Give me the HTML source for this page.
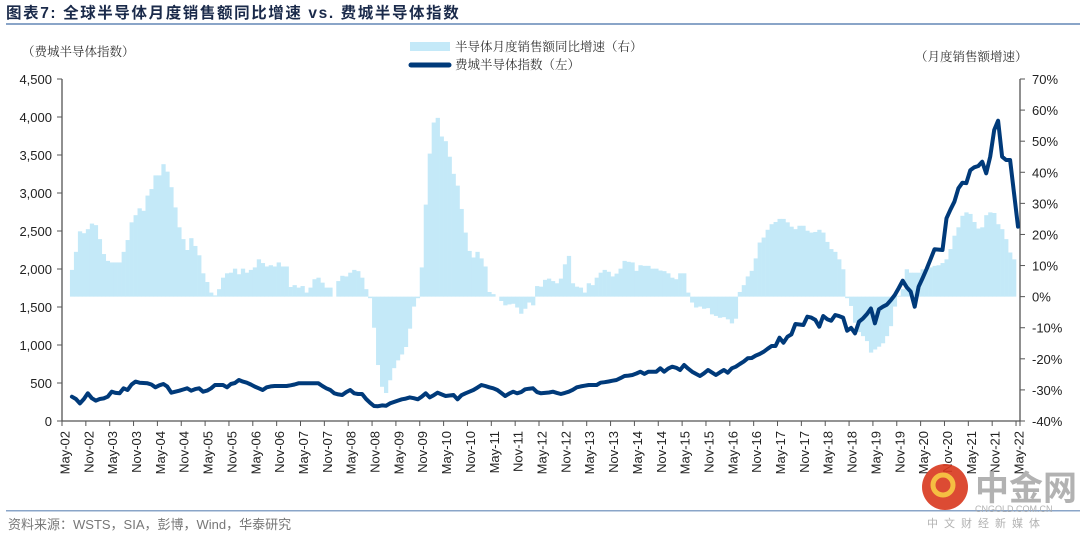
<!DOCTYPE html>
<html><head><meta charset="utf-8"><style>
body{margin:0;background:#fff;}
svg{display:block;font-family:"Liberation Sans","Noto Serif CJK SC","Noto Sans CJK SC",sans-serif;}
</style></head><body>
<svg id="chart" width="1080" height="539" viewBox="0 0 1080 539" xmlns="http://www.w3.org/2000/svg">
<text x="6" y="18" font-size="15.5" letter-spacing="1.6" font-weight="bold" fill="#1a2a4a" font-family="'Liberation Sans','Noto Sans CJK SC',sans-serif">图表7:  全球半导体月度销售额同比增速 vs. 费城半导体指数</text>
<rect x="6" y="23" width="1074" height="2" fill="#8aa5c8"/>
<text x="22" y="56" font-size="12.5" fill="#333" font-family="'Noto Serif CJK SC',serif">（费城半导体指数）</text>
<text x="915" y="61" font-size="12.5" fill="#333" font-family="'Noto Serif CJK SC',serif">（月度销售额增速）</text>
<g>
<rect x="410" y="42" width="40" height="9" fill="#c4e9f8"/>
<text x="455" y="51" font-size="12.5" fill="#333" font-family="'Noto Serif CJK SC',serif">半导体月度销售额同比增速（右）</text>
<line x1="411" y1="65" x2="449" y2="65" stroke="#003a7a" stroke-width="5" stroke-linecap="round"/>
<text x="455" y="69" font-size="12.5" fill="#333" font-family="'Noto Serif CJK SC',serif">费城半导体指数（左）</text>
</g>
<g id="plot"></g>
<rect x="6" y="510" width="1074" height="1.5" fill="#8aa5c8"/>
<text x="8" y="529" font-size="13" fill="#777" font-family="'Liberation Sans','Noto Sans CJK SC',sans-serif">资料来源：WSTS，SIA，彭博，Wind，华泰研究</text>
<g opacity="0.9">
<circle cx="945" cy="487" r="23" fill="#d9381e"/>
<circle cx="943" cy="485" r="10" fill="none" stroke="#f5b82e" stroke-width="5"/>
<text x="975" y="500" font-size="34" font-weight="bold" fill="#aaa" font-family="'Noto Sans CJK SC',sans-serif">中金网</text>
<text x="975" y="512" font-size="9" fill="#aaa">CNGOLD.COM.CN</text>
<text x="927" y="527" font-size="11" fill="#aaa" letter-spacing="6" font-family="'Noto Sans CJK SC',sans-serif">中文财经新媒体</text>
</g>
</svg>
<script>
const growth = [null,null,8.6,14.4,21,20.4,21.7,23.5,23,18.5,13.7,11.5,11,11,11,14.4,18.2,23.9,26.2,28.4,27.6,32.5,34.6,39,39,42.6,40.2,35.2,28.7,22.3,18.5,15,18.8,16.3,13.3,7.5,4.7,1.3,0.4,2.4,6.1,7.5,7.7,9,7.2,9,7.7,8.6,9.4,12,10.8,9.7,10.1,9.7,11,9.7,9.7,3.1,3.7,2.9,3.4,1.3,2.9,5.6,6.1,4.5,2.9,2.9,0,5,6.7,6.5,7.7,8.6,8.2,6.1,2.4,-0.5,-10,-22,-29,-31,
-26.9,-23,-20.5,-18.6,-16.2,-10.3,-3.2,-0.5,9.4,29.6,46,56,57.5,51.5,50,45,39.5,35.7,28.2,20.6,14.7,12.6,14.4,12.3,9.7,1.5,0.8,0,-1.4,-2.8,-2.5,-2.3,-3.5,-5.5,-3.9,-1.9,-2.8,3.4,3.2,5.4,5.8,5,4.3,5.8,10.4,13.1,4.3,3.2,2.9,1.3,4.3,3.7,6.1,7.7,8.6,8,6.5,7.4,9,11.5,11.2,11,8.3,10.1,9.9,9.9,9,9,8.4,8.2,7.5,6.1,5.6,
7.5,7.5,1.3,-1.9,-3.5,-3.2,-3.9,-3.7,-5.7,-6.2,-6.8,-6.6,-7.3,-8.6,-7.1,1.5,3.7,6.5,8.3,12.3,17.4,19,21.5,23.3,24,25,25,23.9,22.5,21.7,22.8,22.8,21.2,20.6,20.8,21.5,20.6,17.6,15.3,14.4,12,8.8,-0.5,-3,-8.4,-11.4,-12.7,-14.3,-18,-17,-16.1,-15,-12.7,-9.5,-3.2,0.3,2.4,8.8,7.7,7.7,7.7,8.8,8.7,9.4,9.9,10.1,10.8,12,15.3,19.6,22.3,26,27.1,26.6,24,21.9,22.3,26.2,27.1,26.9,23.3,21.7,18.5,14.2,12];
const sox = [null,null,320,290,232,290,364,300,268,290,298,320,386,370,364,430,408,480,518,504,500,496,480,443,470,487,452,373,385,399,415,430,399,420,430,386,400,430,474,474,474,443,487,500,539,518,504,480,452,430,408,443,455,461,461,461,461,470,480,496,496,496,496,496,496,460,430,408,364,350,342,380,408,364,355,355,290,240,197,195,205,200,232,250,268,285,295,311,300,285,320,364,311,340,373,350,329,335,342,285,340,364,385,408,440,474,460,443,430,408,370,329,360,386,364,380,417,425,430,380,364,370,375,386,370,355,370,386,410,443,455,465,474,474,474,504,510,520,530,539,565,592,598,605,625,649,620,649,649,649,693,649,690,715,700,671,737,690,649,620,592,627,671,640,605,640,671,636,693,715,750,781,825,829,860,882,910,950,987,987,1096,1030,1109,1140,1276,1270,1263,1372,1360,1330,1241,1382,1340,1320,1395,1380,1360,1188,1225,1153,1307,1350,1408,1480,1285,1470,1504,1530,1590,1658,1750,1846,1760,1702,1504,1767,1880,2000,2130,2259,2255,2250,2667,2780,2886,3062,3136,3130,3300,3338,3355,3412,3259,3478,3829,3951,3478,3434,3434,3000,2557];
const leftTicks = [0,500,1000,1500,2000,2500,3000,3500,4000,4500];
const rightTicks = [-40,-30,-20,-10,0,10,20,30,40,50,60,70];
const monthNames = ["May","Nov"];
const startYear = 2;

const NS="http://www.w3.org/2000/svg";
const plot=document.getElementById('plot');
const X0=62,X1=1020,Y0=421,Y1=79,N=241;
const bw=(X1-X0)/N;
const xBand=i=>X0+i*bw;
const xC=i=>X0+(i+0.5)*bw;
const yL=v=>Y0-(v/4500)*(Y0-Y1);
const yR=v=>Y0-((v+40)/110)*(Y0-Y1);
function mk(tag,attrs,parent){const e=document.createElementNS(NS,tag);for(const k in attrs)e.setAttribute(k,attrs[k]);(parent||plot).appendChild(e);return e;}

growth.forEach((v,i)=>{
  if(v===null)return;
  const y0=yR(0),y=yR(v);
  const r=mk('rect',{x:xBand(i),y:Math.min(y,y0),width:bw+0.3,height:Math.max(Math.abs(y0-y),0.01),fill:'#c4e9f8'});
  
  
});
const ax=mk('path',{d:`M${X0},${Y1}V${Y0}H${X1}V${Y1}`,fill:'none',stroke:'#555','stroke-width':1.3});


leftTicks.forEach(t=>{
  const y=yL(t);
  mk('line',{x1:X0-5,x2:X0,y1:y,y2:y,stroke:'#555'});
  const tx=mk('text',{x:X0-10,y:y+5,'text-anchor':'end','font-size':13,fill:'#222'});
  tx.textContent=t.toLocaleString('en-US');
  
  
});
rightTicks.forEach(t=>{
  const y=yR(t);
  mk('line',{x1:X1,x2:X1+5,y1:y,y2:y,stroke:'#555'});
  const tx=mk('text',{x:X1+12,y:y+5,'font-size':13,fill:'#222'});
  tx.textContent=t+'%';
  
  
});
for(let i=0;i<N;i+=6){
  const xt=xBand(i);
  mk('line',{x1:xt,x2:xt,y1:Y0,y2:Y0+5,stroke:'#555'});
  const yr=startYear+Math.floor(i/12);
  const lab=monthNames[(i/6)%2]+'-'+String(yr).padStart(2,'0');
  const x=xC(i)+1;
  const tx=mk('text',{x:x,y:Y0+10,transform:`rotate(-90 ${x} ${Y0+10})`,'text-anchor':'end','font-size':13,fill:'#222','dominant-baseline':'central'});
  tx.textContent=lab;
  
  
}
mk('line',{x1:X1,x2:X1,y1:Y0,y2:Y0+5,stroke:'#555'});
let d='';
sox.forEach((v,i)=>{if(v===null)return;d+=(d?'L':'M')+xC(i).toFixed(1)+','+yL(v).toFixed(1);});
const ln=mk('path',{d:d,fill:'none',stroke:'#003a7a','stroke-width':4,'stroke-linejoin':'round','stroke-linecap':'round'});


</script>
</body></html>
